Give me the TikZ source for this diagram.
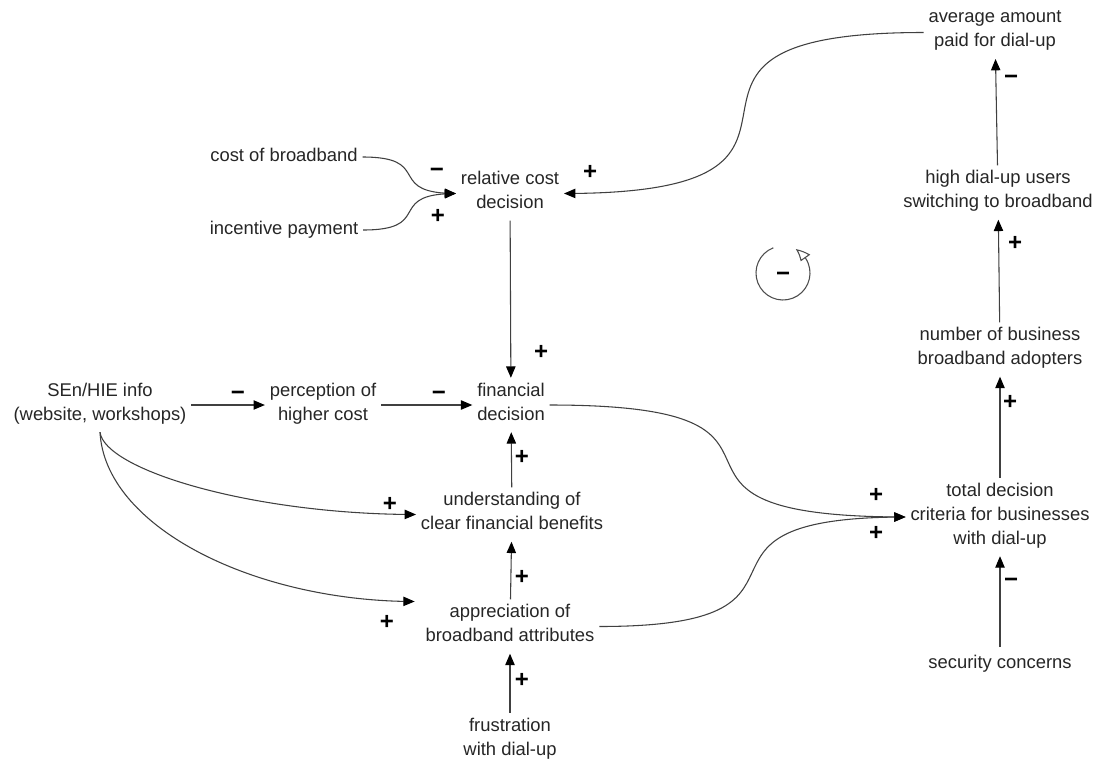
\documentclass[tikz,border=0pt]{standalone}
\usepackage{fontspec}
\setmainfont{Liberation Sans}
\usetikzlibrary{arrows.meta,bending,calc}

\begin{document}
\begin{tikzpicture}[x=0.75pt,y=-0.75pt,
  var/.style={align=center,inner sep=3.5pt,text=black!85,
    font=\fontsize{13.8}{18}\selectfont,
    execute at begin node=\strut,execute at end node=\strut},
  pol/.style={inner sep=0pt,text=black,font=\fontsize{18}{18}\selectfont\bfseries},
  link/.style={draw=black!75,line width=0.8pt,-{Triangle[length=8.5pt,width=7pt,color=black]}},
  looparr/.style={draw=black!70,line width=0.8pt,-{Triangle[open,bend,length=10pt,width=8.5pt]}}]

\fill[white] (0,0) rectangle (1095,761);
\useasboundingbox (0,0) rectangle (1095,761);

% variables
\node[var] (cost) at (284,157) {cost of broadband};
\node[var] (incent) at (284,230) {incentive payment};
\node[var] (rel) at (510,193.5) {relative cost\\decision};
\node[var] (avg) at (995,32.5) {average amount\\paid for dial-up};
\node[var] (high) at (998,192.5) {high dial-up users\\switching to broadband};
\node[var] (num) at (1000,349.5) {number of business\\broadband adopters};
\node[var] (total) at (1000,517) {total decision\\criteria for businesses\\with dial-up};
\node[var] (sec) at (1000,664) {security concerns};
\node[var] (sen) at (100,405) {SEn/HIE info\\(website, workshops)};
\node[var] (perc) at (323,405) {perception of\\higher cost};
\node[var] (fin) at (511,405) {financial\\decision};
\node[var] (und) at (512,514.5) {understanding of\\clear financial benefits};
\node[var] (appr) at (510,626.5) {appreciation of\\broadband attributes};
\node[var] (frus) at (510,740) {frustration\\with dial-up};
\coordinate (apprin) at ($(appr.west)+(-6,-25)$);

% links
\draw[link] (cost.east) .. controls +(72,0) and +(-72,0) .. (rel.west);
\draw[link] (incent.east) .. controls +(72,0) and +(-72,0) .. (rel.west);
\draw[link] (avg.west) .. controls +(-330,0) and +(330,0) .. (rel.east);
\draw[link] (rel) -- (fin);
\draw[link] (sen) -- (perc);
\draw[link] (perc) -- (fin);
\draw[link] (und) -- (fin);
\draw[link] (appr) -- (und);
\draw[link] (frus) -- (appr);
\draw[link] (sen.south) .. controls +(5,38) and +(-163,0) .. (und.west);
\draw[link] (sen.south) .. controls +(5,95) and +(-160,0) .. (apprin);
\draw[link] (fin.east) .. controls +(305,0) and +(-305,0) .. (total.west);
\draw[link] (appr.east) .. controls +(255,0) and +(-255,0) .. (total.west);
\draw[link] (sec) -- (total);
\draw[link] (total) -- (num);
\draw[link] (num) -- (high);
\draw[link] (high) -- (avg);

% polarities
\foreach \px/\py/\sgn [count=\i] in {437/173/−, 438/216/+, 590/172/+, 541/352/+,
    238/396/−, 439/396/−, 522/457/+, 390/504/+, 387/622/+, 522/577/+, 522/680/+,
    876/495/+, 876/533/+, 1011/583/−, 1010/402/+, 1015/243/+, 1011/80/−}
  \node[pol] (sgn\i) at (\px,\py) {\sgn};

% loop
\coordinate (loopc) at (783,273);
\node[pol] (loopsgn) at (783,277) {−};
\draw[looparr] ($(loopc)+(-111:27)$) arc[start angle=-111,end angle=-422,radius=27];

\end{tikzpicture}
\end{document}
